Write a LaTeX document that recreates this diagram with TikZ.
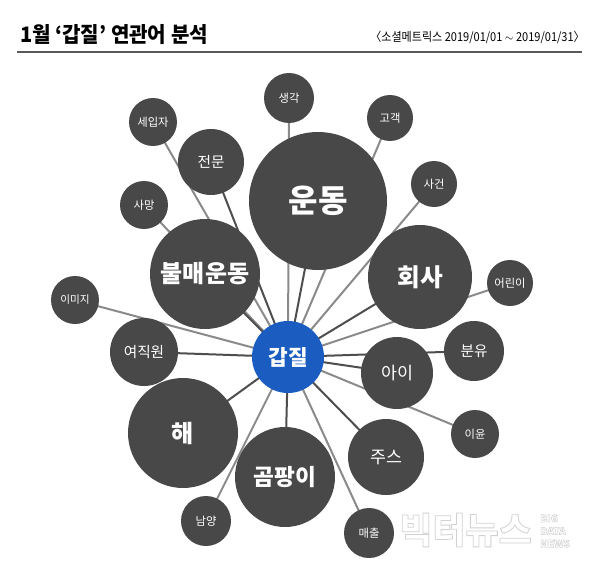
\documentclass[tikz,border=0pt]{standalone}
\usepackage{fontspec}
\setmainfont{Noto Sans CJK KR}
\newcommand{\fpx}[1]{\fontsize{#1*0.75}{#1*0.9}\selectfont}
\definecolor{disc}{HTML}{484848}
\definecolor{hub}{HTML}{1B5CC0}
\definecolor{lnA}{HTML}{8A8A8A}
\definecolor{lnB}{HTML}{4E4E4E}
\tikzset{
  bub/.style={circle,fill=disc,text=white,inner sep=0pt,minimum size=2*#1*0.75pt,font=\fontsize{#1*0.36}{#1*0.4}\selectfont},
  lite/.style={line width=1.5pt,draw=lnA},
  dark/.style={line width=1.5pt,draw=lnB},
}
\newcommand{\bubble}[5]{\node[circle,fill=disc,text=white,inner sep=0pt,minimum size=#4*1.5pt,font=\fontsize{#5}{#5}\selectfont] (#1) at (#2,#3) {\vphantom{}};}
\begin{document}
\begin{tikzpicture}[x=0.75pt,y=-0.75pt]
\useasboundingbox (0,0) rectangle (600,578);
\fill[white] (0,0) rectangle (600,578);
% centres for connectors
\coordinate (ca) at (288,357);
\coordinate (c1) at (318,201);
\coordinate (c2) at (205,274);
\coordinate (c3) at (420,277);
\coordinate (c4) at (211,162);
\coordinate (c5) at (289,98);
\coordinate (c6) at (390,118);
\coordinate (c7) at (153,122);
\coordinate (c8) at (144,205);
\coordinate (c9) at (434,184);
\coordinate (c10) at (75,300);
\coordinate (c11) at (510,283);
\coordinate (c12) at (144,352);
\coordinate (c13) at (474,351);
\coordinate (c14) at (397,373);
\coordinate (c15) at (475,434);
\coordinate (c16) at (183,433);
\coordinate (c17) at (285,477);
\coordinate (c18) at (386,457);
\coordinate (c19) at (206,521);
\coordinate (c20) at (369,533);
% connectors
\draw[lite] (ca)--(c5);
\draw[lite] (ca)--(c6);
\draw[dark] (ca)--(c1);
\draw[lite] (ca)--(c7);
\draw[dark] (ca)--(c4);
\draw[lite] (ca)--(c8);
\draw[dark] (ca)--(c2);
\draw[lite] (ca)--(c9);
\draw[lite] (ca)--(c10);
\draw[lite] (ca)--(c11);
\draw[dark] (ca)--(c3);
\draw[dark] (ca)--(c12);
\draw[dark] (ca)--(c13);
\draw[dark] (ca)--(c14);
\draw[lite] (ca)--(c15);
\draw[dark] (ca)--(c16);
\draw[dark] (ca)--(c17);
\draw[dark] (ca)--(c18);
\draw[lite] (ca)--(c19);
\draw[lite] (ca)--(c20);
% bubbles
\node[bub=69,font=\fontsize{24}{24}\selectfont\bfseries] (n1) at (c1) {운동};
\node[bub=55,font=\fontsize{18}{18}\selectfont\bfseries] (n2) at (c2) {불매운동};
\node[bub=52,font=\fontsize{18.5}{18}\selectfont\bfseries] (n3) at (c3) {회사};
\node[bub=33,font=\fontsize{11}{11}\selectfont] (n4) at (c4) {전문};
\node[bub=25,font=\fontsize{8.5}{9}\selectfont] (n5) at (c5) {생각};
\node[bub=23,font=\fontsize{8.5}{9}\selectfont] (n6) at (c6) {고객};
\node[bub=24,font=\fontsize{8.5}{9}\selectfont] (n7) at (c7) {세입자};
\node[bub=24,font=\fontsize{8.5}{9}\selectfont] (n8) at (c8) {사망};
\node[bub=23,font=\fontsize{8.5}{9}\selectfont] (n9) at (c9) {사건};
\node[bub=24,font=\fontsize{8}{9}\selectfont] (n10) at (c10) {이미지};
\node[bub=23,font=\fontsize{8.5}{9}\selectfont] (n11) at (c11) {어린이};
\node[bub=34,font=\fontsize{11}{11}\selectfont] (n12) at (c12) {여직원};
\node[bub=30,font=\fontsize{11}{11}\selectfont] (n13) at (c13) {분유};
\node[bub=36,font=\fontsize{13}{13}\selectfont] (n14) at (c14) {아이};
\node[bub=24,font=\fontsize{8.5}{9}\selectfont] (n15) at (c15) {이윤};
\node[bub=55,font=\fontsize{18}{18}\selectfont\bfseries] (n16) at (c16) {해};
\node[bub=50,font=\fontsize{17}{17}\selectfont\bfseries] (n17) at (c17) {곰팡이};
\node[bub=38,font=\fontsize{13}{13}\selectfont] (n18) at (c18) {주스};
\node[bub=25,font=\fontsize{8.5}{9}\selectfont] (n19) at (c19) {남양};
\node[bub=25,font=\fontsize{8.5}{9}\selectfont] (n20) at (c20) {매출};
\node[bub=36,fill=hub,font=\fontsize{16}{16}\selectfont\bfseries] (hubn) at (ca) {갑질};
% title
\node[anchor=west,inner sep=0pt,font=\fontsize{16}{16}\selectfont\bfseries,xscale=.94] (title) at (20,35) {1월 ‘갑질’ 연관어 분석};
\node[anchor=east,inner sep=0pt,font=\fontsize{9.2}{10}\selectfont,xscale=.9] (src) at (585,37) {〈소셜메트릭스 2019/01/01 $\sim$ 2019/01/31〉};
\coordinate (r1) at (17,52); \coordinate (r2) at (582,52);
\draw[line width=1pt,draw=black!65] (r1)--(r2);
% watermark
\node[anchor=west,inner sep=0pt,font=\fontsize{27}{27}\selectfont\bfseries] (wm) at (399,530) {\special{pdf:code q 1 Tr 0.82 0.82 0.82 RG 0.6 w}빅터뉴스\special{pdf:code Q}};
\node[anchor=west,inner sep=0pt,align=left,font=\fontsize{7.5}{9.5}\selectfont\bfseries] (wm2) at (540,531) {\special{pdf:code q 1 Tr 0.82 0.82 0.82 RG 0.4 w}BIG\special{pdf:code Q}\\\special{pdf:code q 1 Tr 0.82 0.82 0.82 RG 0.4 w}DATA\special{pdf:code Q}\\\special{pdf:code q 1 Tr 0.82 0.82 0.82 RG 0.4 w}NEWS\special{pdf:code Q}};
\end{tikzpicture}
\end{document}
